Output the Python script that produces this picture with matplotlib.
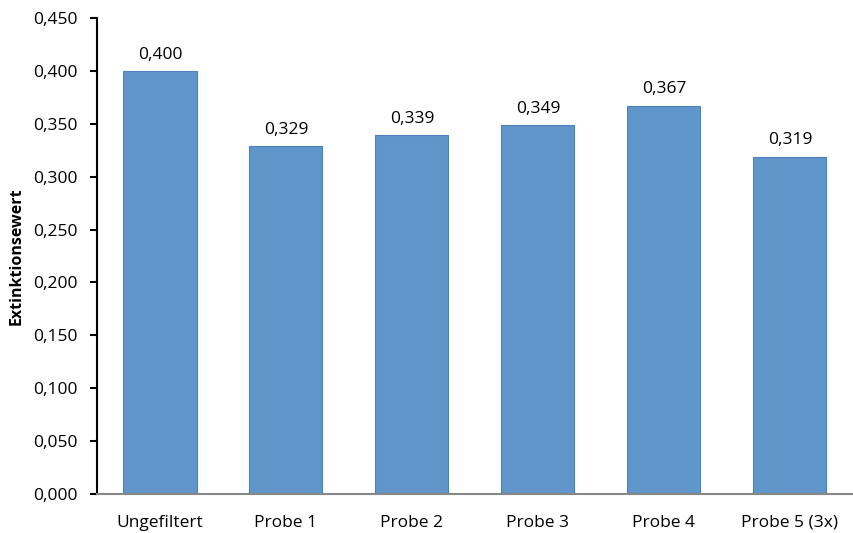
import matplotlib
matplotlib.use("Agg")
import matplotlib.pyplot as plt
from matplotlib.ticker import FuncFormatter
import numpy as np

# Extinktion je Probe
categories = ["Ungefiltert", "Probe 1", "Probe 2", "Probe 3", "Probe 4", "Probe 5 (3x)"]
values = [0.400, 0.329, 0.339, 0.349, 0.367, 0.319]

plt.rcParams['font.family'] = ['Open Sans', 'DejaVu Sans']


def de_fmt(v, pos=None):
    return f"{v:.3f}".replace(".", ",")


fig = plt.figure(figsize=(8.54, 5.33), dpi=100)
ax = fig.add_axes([0.1136, 0.0732, 0.885, 0.893])

x = np.arange(len(categories))
bars = ax.bar(x, values, width=0.58, color='#6096C9', edgecolor='#4F81BD', linewidth=0.8)

for xi, v in zip(x, values):
    ax.annotate(de_fmt(v), (xi, v), xytext=(0, 6), textcoords='offset points',
                ha='center', va='bottom', fontsize=12.5)

ax.set_xlim(-0.5, len(categories) - 0.5)
ax.set_ylim(0, 0.45)
ax.set_yticks(np.arange(0, 0.451, 0.05))
ax.yaxis.set_major_formatter(FuncFormatter(de_fmt))
ax.set_xticks(x)
ax.set_xticklabels(categories)

ax.tick_params(axis='y', labelsize=12.5, length=5, width=1.5, direction='out', pad=9)
ax.tick_params(axis='x', labelsize=12.5, length=0, pad=15)

for s in ['top', 'right']:
    ax.spines[s].set_visible(False)
ax.spines['left'].set_linewidth(1.5)
ax.spines['bottom'].set_color('#888888')
ax.spines['bottom'].set_linewidth(1.5)

ax.set_ylabel('Extinktionsewert', fontsize=11.5, fontweight='bold', labelpad=6)

fig.savefig("out.png", dpi=100)
